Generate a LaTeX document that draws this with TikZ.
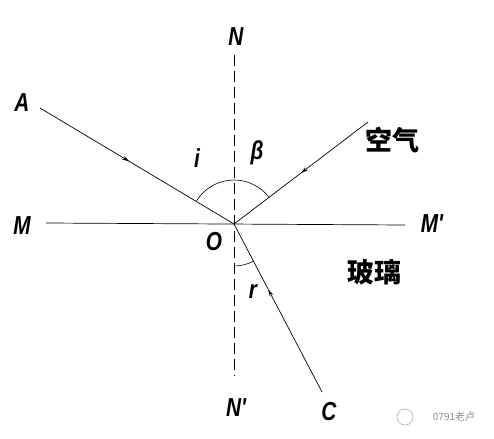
\documentclass[tikz,border=0pt]{standalone}
\usepackage{fontspec}
\setmainfont{Liberation Sans}
\newfontfamily\lblfont[FakeStretch = 0.8]{Liberation Sans}
\newfontfamily\cjk{Noto Sans CJK SC}
\usetikzlibrary{arrows.meta, decorations.markings}

\begin{document}
\begin{tikzpicture}[
    x = 1pt, y = -1pt,
    ray/.style = {line width = 0.7pt},
    normal/.style = {line width = 0.7pt, dash pattern = on 11pt off 5pt},
    flow/.style = {postaction = {decorate},
      decoration = {markings,
        mark = at position #1 with {\arrow{Stealth[length = 7pt, width = 4pt]}}}},
    letter/.style = {inner sep = 0pt,
      font = \lblfont\fontsize{26}{26}\selectfont\bfseries\itshape},
    medium/.style = {inner sep = 0pt,
      font = \cjk\fontsize{27}{27}\selectfont\bfseries}
    ]

    \useasboundingbox (0, 0) rectangle (494, 438);

    % points
    \coordinate (O) at (234, 224);
    \coordinate (A) at (40, 108);
    \coordinate (B) at (368, 122);
    \coordinate (C) at (322, 392);
    \coordinate (M) at (46, 223);
    \coordinate (Mp) at (405, 225);
    \coordinate (N) at (234, 55);
    \coordinate (Np) at (234, 376);

    % surface and normal
    \draw [ray] (M) -- (Mp);
    \draw [normal] (N) -- (Np);

    % rays
    \draw [ray, flow = 0.46] (A) -- (O);
    \draw [ray, flow = 0.5] (B) -- (O);
    \draw [ray, flow = 0.61] (C) -- (O);

    % angles
    \draw [line width = 0.6pt] (O) ++(-149:44) arc [start angle = -149, end angle = -37, radius = 44];
    \draw [line width = 0.6pt] (O) ++(90:42) arc [start angle = 90, end angle = 62, radius = 42];

    % labels
    \node at (22, 103) [letter, name = lA] {A};
    \node at (22, 226) [letter, name = lM] {M};
    \node at (432, 224) [letter, name = lMp] {M'};
    \node at (236, 37) [letter, name = lN] {N};
    \node at (236, 408) [letter, name = lNp] {N'};
    \node at (214, 242) [letter, name = lO] {O};
    \node at (329, 412) [letter, name = lC] {C};
    \node at (197, 158) [letter, name = li] {i};
    \node at (257, 153) [letter, name = lb] {β};
    \node at (253, 292) [letter, name = lr] {r};
    \node at (392, 140) [medium, name = air] {空气};
    \node at (374, 272) [medium, name = glass] {玻璃};

    % watermark
    \draw [black!25, line width = 0.8pt] (405, 417) circle [radius = 8];
    \node at (454, 417) [inner sep = 0pt, text = black!45,
      font = \cjk\fontsize{10}{10}\selectfont, name = mark0791] {0791老卢};
\end{tikzpicture}
\end{document}
